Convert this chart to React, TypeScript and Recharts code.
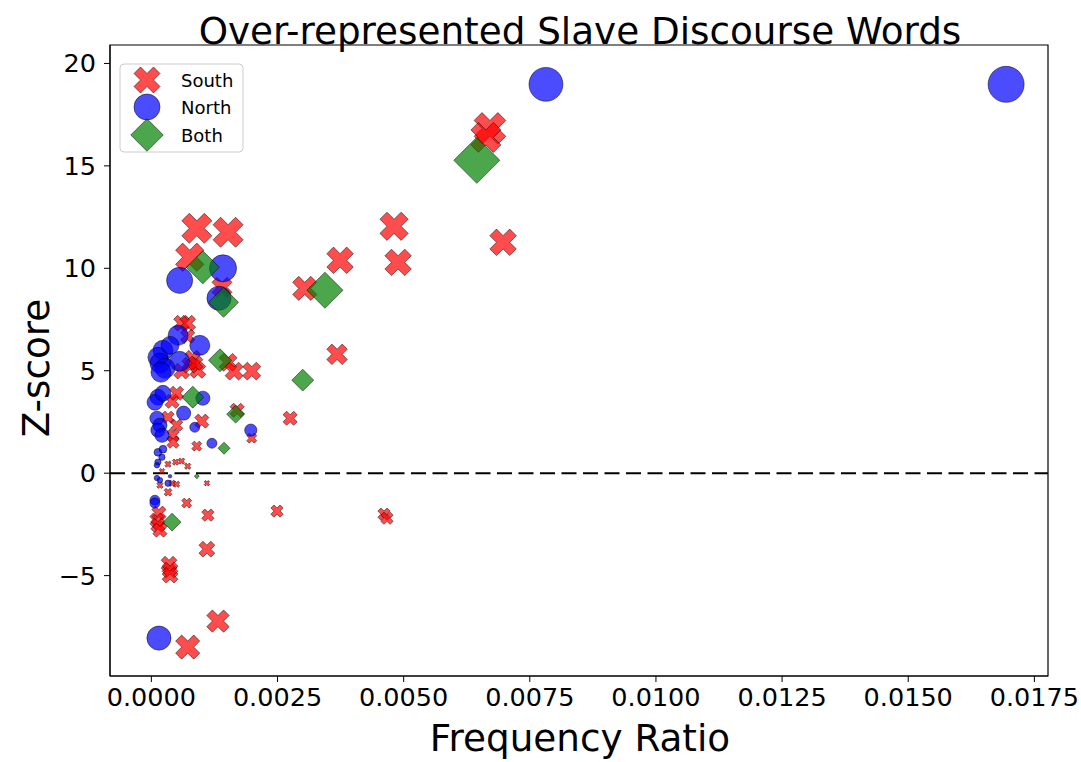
import React from 'react';
import { ScatterChart, Scatter, XAxis, YAxis, ZAxis, ReferenceLine, ReferenceArea } from 'recharts';

// [frequency ratio, z-score, marker weight]
const southPoints: [number, number, number][] = [
  [0.00671, 16.83, 1000], [0.00663, 16.39, 900], [0.00481, 12.05, 800], [0.00489, 10.29, 700],
  [0.00697, 11.27, 700], [0.00374, 10.39, 700], [0.00304, 9.02, 580], [0.00368, 5.8, 420],
  [0.00275, 2.68, 200], [0.00249, -1.85, 150], [0.00461, -2.0, 150], [0.00467, -2.2, 150],
  [0.0009, 11.95, 900], [0.00152, 11.76, 900], [0.00076, 10.54, 800], [0.0014, 9.07, 400],
  [0.0006, 7.32, 250], [0.00072, 7.32, 250], [0.00082, 5.61, 250], [0.00092, 5.02, 250],
  [0.0006, 4.98, 250], [0.00076, 5.27, 250], [0.00072, 6.68, 200], [0.00088, 5.37, 200],
  [0.00152, 5.41, 320], [0.00164, 4.98, 320], [0.00199, 4.98, 320], [0.00041, 3.51, 200],
  [0.0005, 3.9, 200], [0.00033, 2.73, 150], [0.0005, 2.34, 150], [0.00043, 1.85, 150],
  [0.00043, 1.51, 150], [0.001, 2.54, 200], [0.0009, 1.32, 100], [0.0017, 3.07, 200],
  [0.00199, 1.71, 100], [0.00033, 0.44, 40], [0.00048, 0.54, 40], [0.0006, 0.59, 40],
  [0.00072, 0.34, 40], [0.00021, 0.1, 30], [0.00017, -0.59, 40], [0.00041, -0.49, 40],
  [0.0005, -0.54, 40], [0.0011, -0.49, 30], [0.00033, -0.93, 60], [0.0007, -1.46, 100],
  [0.00015, -1.95, 200], [0.00011, -2.29, 200], [0.00013, -2.54, 200], [0.00017, -2.78, 200],
  [0.00112, -2.05, 150], [0.0011, -3.71, 250], [0.00035, -4.44, 250], [0.00037, -4.73, 250],
  [0.00037, -4.98, 250], [0.00132, -7.22, 500], [0.00072, -8.49, 580],
];

const northPoints: [number, number, number][] = [
  [0.00782, 18.98, 1150], [0.01694, 18.98, 1300], [0.00056, 9.41, 680], [0.00142, 10.0, 730],
  [0.00134, 8.54, 580], [0.00053, 6.73, 400], [0.00096, 6.24, 400], [0.00056, 5.46, 400],
  [0.00023, 6.0, 400], [0.00013, 5.66, 400], [0.00017, 5.37, 400], [0.00027, 5.12, 400],
  [0.00019, 4.93, 400], [0.00037, 6.24, 320], [0.00013, 3.71, 250], [0.00007, 3.46, 250],
  [0.00023, 3.9, 250], [0.00102, 3.66, 200], [0.00064, 2.93, 200], [0.00011, 2.68, 200],
  [0.00017, 2.34, 200], [0.00013, 2.1, 200], [0.00021, 1.85, 200], [0.00086, 2.24, 100],
  [0.00197, 2.1, 150], [0.0012, 1.46, 100], [0.00013, 1.02, 60], [0.00023, 1.17, 60],
  [0.00021, 0.78, 40], [0.00013, 0.54, 40], [0.00011, 0.39, 30], [0.00011, -0.24, 30],
  [0.00017, -0.34, 30], [0.00033, -0.49, 40], [0.00037, -0.15, 12], [0.00007, -1.32, 100],
  [0.00007, -1.46, 100], [0.00015, -8.05, 580],
];

const bothPoints: [number, number, number][] = [
  [0.00645, 15.27, 1060], [0.00344, 8.93, 650], [0.00102, 10.05, 545], [0.00143, 8.34, 450],
  [0.00136, 5.51, 265], [0.003, 4.54, 240], [0.00082, 3.71, 240], [0.00167, 2.88, 160],
  [0.00144, 1.22, 72], [0.0009, -0.15, 12], [0.00041, -2.39, 160],
];

const xTicks = [0, 0.0025, 0.005, 0.0075, 0.01, 0.0125, 0.015, 0.0175];
const yTicks = [-5, 0, 5, 10, 15, 20];
const xDomain: [number, number] = [-0.00082, 0.01777];
const yDomain: [number, number] = [-9.9, 20.9];

const seriesNames = ['South', 'North', 'Both'];
const TITLE = 'Over-represented Slave Discourse Words';
const X_LABEL = 'Frequency Ratio';
const Y_LABEL = 'Z-score';

const toRows = (pts: [number, number, number][]) => pts.map(([x, y, w]) => ({ x, y, w }));

const FONT = '"DejaVu Sans", sans-serif';
const EDGE = 'rgba(0,0,0,0.7)';
const RED = 'rgba(255,0,0,0.7)';
const BLUE = 'rgba(0,0,255,0.7)';
const GREEN = 'rgba(0,128,0,0.7)';

const getD = (p: any) => {
  const s = p.size ?? Math.PI * Math.pow((p.width || 8) / 2, 2);
  return Math.sqrt(Math.max(s, 0));
};

const xPath = (cx: number, cy: number, d: number) => {
  const v = [[-1, -2], [0, -1], [1, -2], [2, -1], [1, 0], [2, 1], [1, 2], [0, 1], [-1, 2], [-2, 1], [-1, 0], [-2, -1]];
  return v.map(([a, b], i) => `${i === 0 ? 'M' : 'L'}${cx + (a * d) / 4},${cy + (b * d) / 4}`).join(' ') + ' Z';
};
const diamondPath = (cx: number, cy: number, d: number) => {
  const h = d / Math.SQRT2;
  return `M${cx},${cy - h} L${cx + h},${cy} L${cx},${cy + h} L${cx - h},${cy} Z`;
};

const XShape = (p: any) => <path d={xPath(p.cx, p.cy, getD(p))} fill={RED} stroke={EDGE} strokeWidth={0.7} />;
const CircleShape = (p: any) => <circle cx={p.cx} cy={p.cy} r={getD(p) / 2} fill={BLUE} stroke={EDGE} strokeWidth={0.7} />;
const DiamondShape = (p: any) => <path d={diamondPath(p.cx, p.cy, getD(p))} fill={GREEN} stroke={EDGE} strokeWidth={0.7} />;

const fmtY = (v: number) => (v < 0 ? '\u2212' + Math.abs(v) : String(v));

const Legend = () => (
  <svg width={130} height={95} style={{ position: 'absolute', left: 118, top: 62 }}>
    <rect x={2} y={2} width={123} height={88} rx={4} fill="rgba(255,255,255,0.8)" stroke="#cccccc" strokeWidth={1} />
    <path d={xPath(29, 18, 26)} fill={RED} stroke={EDGE} strokeWidth={0.7} />
    <circle cx={29} cy={45} r={13} fill={BLUE} stroke={EDGE} strokeWidth={0.7} />
    <path d={diamondPath(29, 73, 23)} fill={GREEN} stroke={EDGE} strokeWidth={0.7} />
    {seriesNames.map((n, i) => (
      <text key={n} x={63} y={18 + i * 27.5} dominantBaseline="central" fontSize={18} fontFamily={FONT} fill="#000">
        {n}
      </text>
    ))}
  </svg>
);

export default function App() {
  return (
    <div style={{ position: 'absolute', left: 0, top: 0, width: 1081, height: 762, background: '#fff' }}>
      <ScatterChart width={1081} height={762} margin={{ top: 45, right: 33, bottom: 0, left: 0 }}>
        <XAxis
          type="number"
          dataKey="x"
          domain={xDomain}
          ticks={xTicks}
          allowDataOverflow
          tickFormatter={(v: number) => v.toFixed(4)}
          height={86}
          tickSize={6}
          tickMargin={6}
          stroke="#000"
          tick={{ fill: '#000', fontSize: 25.5, fontFamily: FONT }}
        />
        <YAxis
          type="number"
          dataKey="y"
          domain={yDomain}
          ticks={yTicks}
          allowDataOverflow
          tickFormatter={fmtY}
          width={110}
          tickSize={6}
          tickMargin={8}
          stroke="#000"
          tick={{ fill: '#000', fontSize: 25.5, fontFamily: FONT }}
        />
        <ZAxis type="number" dataKey="w" domain={[0, 1300]} range={[0, 1300]} />
        <ReferenceArea x1={xDomain[0]} x2={xDomain[1]} y1={yDomain[0]} y2={yDomain[1]} fill="none" stroke="#000" strokeWidth={1.2} />
        <ReferenceLine y={0} stroke="#000" strokeWidth={2} strokeDasharray="15 6.5" />
        <Scatter name={seriesNames[0]} data={toRows(southPoints)} shape={XShape} isAnimationActive={false} />
        <Scatter name={seriesNames[1]} data={toRows(northPoints)} shape={CircleShape} isAnimationActive={false} />
        <Scatter name={seriesNames[2]} data={toRows(bothPoints)} shape={DiamondShape} isAnimationActive={false} />
      </ScatterChart>
      <svg width={1081} height={762} style={{ position: 'absolute', left: 0, top: 0, pointerEvents: 'none' }}>
        <text x={580} y={44} textAnchor="middle" fontSize={37.3} fontFamily={FONT} fill="#000">{TITLE}</text>
        <text x={580} y={751} textAnchor="middle" fontSize={37.3} fontFamily={FONT} fill="#000">{X_LABEL}</text>
        <text x={49} y={368} textAnchor="middle" fontSize={37.3} fontFamily={FONT} fill="#000" transform="rotate(-90 49 368)">{Y_LABEL}</text>
      </svg>
      <Legend />
    </div>
  );
}
